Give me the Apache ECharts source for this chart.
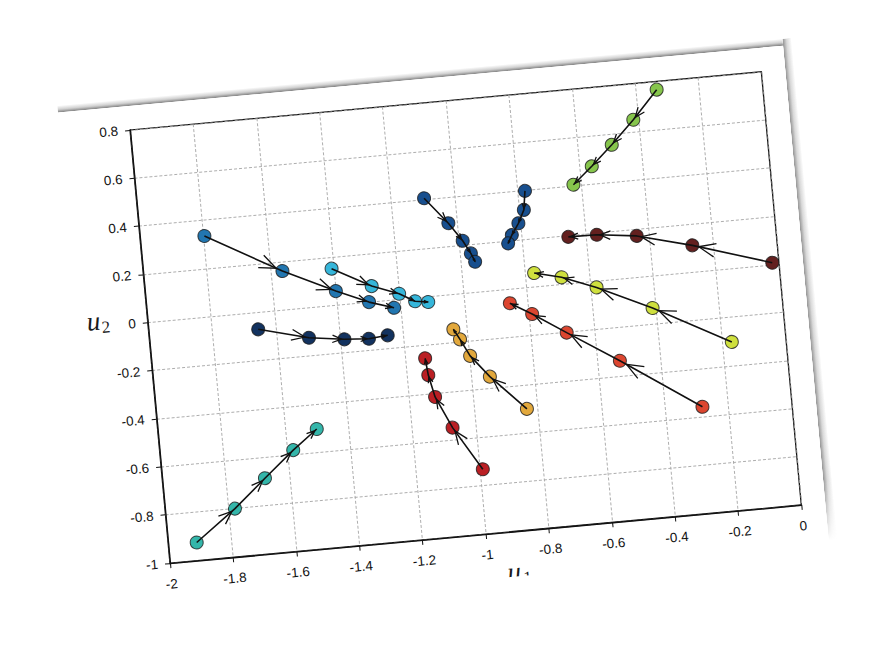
<!DOCTYPE html>
<html>
<head>
<meta charset="utf-8">
<script src="https://cdn.jsdelivr.net/npm/echarts@6/dist/echarts.min.js"></script>
<style>
html,body{margin:0;padding:0;background:#fff;width:880px;height:665px;overflow:hidden;}
#wrap{position:absolute;left:60px;top:106px;width:728px;height:504px;transform-origin:70px 24px;transform:rotate(-5.27deg);}
#shTop{position:absolute;left:0;top:-7px;width:728px;height:7px;
  background:linear-gradient(to top,rgba(120,120,120,0.95),rgba(170,170,170,0.55) 45%,rgba(255,255,255,0));}
#shRight{position:absolute;left:728px;top:-7px;width:9px;height:504px;
  background:linear-gradient(to right,rgba(140,140,140,0.95),rgba(185,185,185,0.55) 45%,rgba(255,255,255,0));
  -webkit-mask-image:linear-gradient(to bottom,#000 88%,transparent);mask-image:linear-gradient(to bottom,#000 88%,transparent);}
#paper{position:absolute;left:0;top:0;width:728px;height:504px;overflow:hidden;background:#fff;}
#chart{width:728px;height:504px;}
</style>
</head>
<body>
<div id="wrap">
  <div id="shTop"></div>
  <div id="shRight"></div>
  <div id="paper"><div id="chart"></div></div>
</div>
<script>
// ---- tick values ----
const xTicks = [-2, -1.8, -1.6, -1.4, -1.2, -1, -0.8, -0.6, -0.4, -0.2, 0];
const yTicks = [-1, -0.8, -0.6, -0.4, -0.2, 0, 0.2, 0.4, 0.6, 0.8];

// ---- trajectories (start -> end), [u1, u2] ----
const teal      = [[-1.910, -0.925], [-1.780, -0.800], [-1.677, -0.686], [-1.580, -0.581], [-1.500, -0.503]];
const steel     = [[-1.797, 0.335], [-1.562, 0.161], [-1.400, 0.058], [-1.299, 0.000], [-1.222, -0.033]];
const cyan      = [[-1.407, 0.152], [-1.286, 0.065], [-1.202, 0.023], [-1.154, -0.014], [-1.113, -0.022]];
const navyDark  = [[-1.655, -0.070], [-1.498, -0.124], [-1.387, -0.144], [-1.310, -0.151], [-1.250, -0.144]];
const navyA     = [[-1.096, 0.407], [-1.027, 0.295], [-0.987, 0.217], [-0.965, 0.162], [-0.954, 0.126]];
const navyB     = [[-0.777, 0.399], [-0.786, 0.321], [-0.807, 0.268], [-0.831, 0.222], [-0.845, 0.189]];
const green     = [[-0.334, 0.766], [-0.416, 0.651], [-0.491, 0.556], [-0.560, 0.475], [-0.623, 0.406]];
const maroon    = [[-0.021, 0.009], [-0.267, 0.111], [-0.439, 0.171], [-0.564, 0.191], [-0.654, 0.193]];
const yellow    = [[-0.171, -0.302], [-0.410, -0.132], [-0.580, -0.026], [-0.687, 0.029], [-0.772, 0.057]];
const redOrange = [[-0.282, -0.558], [-0.528, -0.337], [-0.687, -0.201], [-0.790, -0.111], [-0.857, -0.058]];
const orange    = [[-0.834, -0.500], [-0.941, -0.353], [-0.997, -0.260], [-1.024, -0.188], [-1.042, -0.144]];
const darkRed   = [[-0.990, -0.732], [-1.073, -0.549], [-1.119, -0.416], [-1.134, -0.323], [-1.139, -0.253]];

const trajectories = [
  ['teal', teal], ['steel', steel], ['cyan', cyan], ['navyDark', navyDark],
  ['navyA', navyA], ['navyB', navyB], ['green', green], ['maroon', maroon],
  ['yellow', yellow], ['redOrange', redOrange], ['orange', orange], ['darkRed', darkRed]
];

// ---- styles ----
const colors = {
  teal: '#34b6aa', steel: '#2276b0', cyan: '#36b6da', navyDark: '#12325f',
  navyA: '#184f8e', navyB: '#184f8e', green: '#86c54c', maroon: '#63201f',
  yellow: '#cfe03e', redOrange: '#dc4630', orange: '#e2a83c', darkRed: '#ba1f24'
};

function fmt(v) { return String(Math.round(v * 10) / 10); }

function arrowItem(params, api) {
  const p1 = api.coord([api.value(0), api.value(1)]);
  const p2 = api.coord([api.value(2), api.value(3)]);
  const dx = p2[0] - p1[0], dy = p2[1] - p1[1];
  const L = Math.hypot(dx, dy);
  if (L < 1) return null;
  const ex = dx / L, ey = dy / L;
  const tip = [p1[0] + dx * 0.92, p1[1] + dy * 0.92];
  const a = Math.min(0.28 * L, 18);
  const ang = 22 * Math.PI / 180, c = Math.cos(ang), s = Math.sin(ang);
  const b1 = [tip[0] - a * (ex * c - ey * s), tip[1] - a * (ey * c + ex * s)];
  const b2 = [tip[0] - a * (ex * c + ey * s), tip[1] - a * (ey * c - ex * s)];
  return { type: 'polyline', shape: { points: [b1, tip, b2] },
           style: { stroke: '#111', lineWidth: 1.3, fill: null } };
}

const series = [];
trajectories.forEach(([name, pts]) => {
  series.push({ type: 'scatter', name: name, data: pts, symbolSize: 13, z: 2,
    itemStyle: { color: colors[name], borderColor: 'rgba(25,25,25,0.8)', borderWidth: 1, opacity: 1 } });
});
trajectories.forEach(([name, pts]) => {
  series.push({ type: 'line', name: name + '-path', data: pts, showSymbol: false, symbol: 'none', z: 3,
    silent: true, lineStyle: { color: '#111', width: 1.6 } });
  const segs = [];
  for (let i = 0; i < pts.length - 1; i++) segs.push([pts[i][0], pts[i][1], pts[i + 1][0], pts[i + 1][1]]);
  series.push({ type: 'custom', name: name + '-arrows', data: segs, z: 4, silent: true,
    encode: { x: [0, 2], y: [1, 3] }, renderItem: arrowItem });
});

const axisCommon = {
  type: 'value',
  interval: 0.2,
  axisLine: { show: true, onZero: false, lineStyle: { color: '#111', width: 1.3 } },
  axisTick: { show: true, inside: false, length: 5, lineStyle: { color: '#111', width: 1 } },
  splitLine: { show: true, lineStyle: { color: '#a8a8a8', width: 0.9, type: [3, 2] } },
  axisLabel: { fontSize: 13.5, color: '#111', fontFamily: 'Liberation Sans, Arial, sans-serif',
               formatter: fmt, showMinLabel: true, showMaxLabel: true }
};

const chart = echarts.init(document.getElementById('chart'), null, { renderer: 'svg' });
chart.setOption({
  backgroundColor: '#fff',
  animation: false,
  grid: { left: 70, top: 24, width: 634, height: 435, show: true, borderColor: '#111', borderWidth: 1.3 },
  xAxis: Object.assign({}, axisCommon, { min: xTicks[0], max: xTicks[xTicks.length - 1],
    axisLabel: Object.assign({}, axisCommon.axisLabel, { margin: 14 }) }),
  yAxis: Object.assign({}, axisCommon, { min: yTicks[0], max: yTicks[yTicks.length - 1],
    axisLabel: Object.assign({}, axisCommon.axisLabel, { margin: 12 }) }),
  graphic: [
    { type: 'text', x: 16, y: 211, style: { text: 'u', fontSize: 27, fontStyle: 'italic',
      fontFamily: 'Liberation Serif, serif', fill: '#1a1a1a', align: 'center', verticalAlign: 'middle' } },
    { type: 'text', x: 28, y: 218, style: { text: '2', fontSize: 17,
      fontFamily: 'Liberation Serif, serif', fill: '#1a1a1a', align: 'center', verticalAlign: 'middle' } },
    { type: 'text', x: 412, y: 499, style: { text: 'u', fontSize: 27, fontStyle: 'italic',
      fontFamily: 'Liberation Serif, serif', fill: '#1a1a1a', align: 'center', verticalAlign: 'middle' } },
    { type: 'text', x: 425, y: 506, style: { text: '1', fontSize: 17,
      fontFamily: 'Liberation Serif, serif', fill: '#1a1a1a', align: 'center', verticalAlign: 'middle' } }
  ],
  series: series
});
</script>
</body>
</html>
